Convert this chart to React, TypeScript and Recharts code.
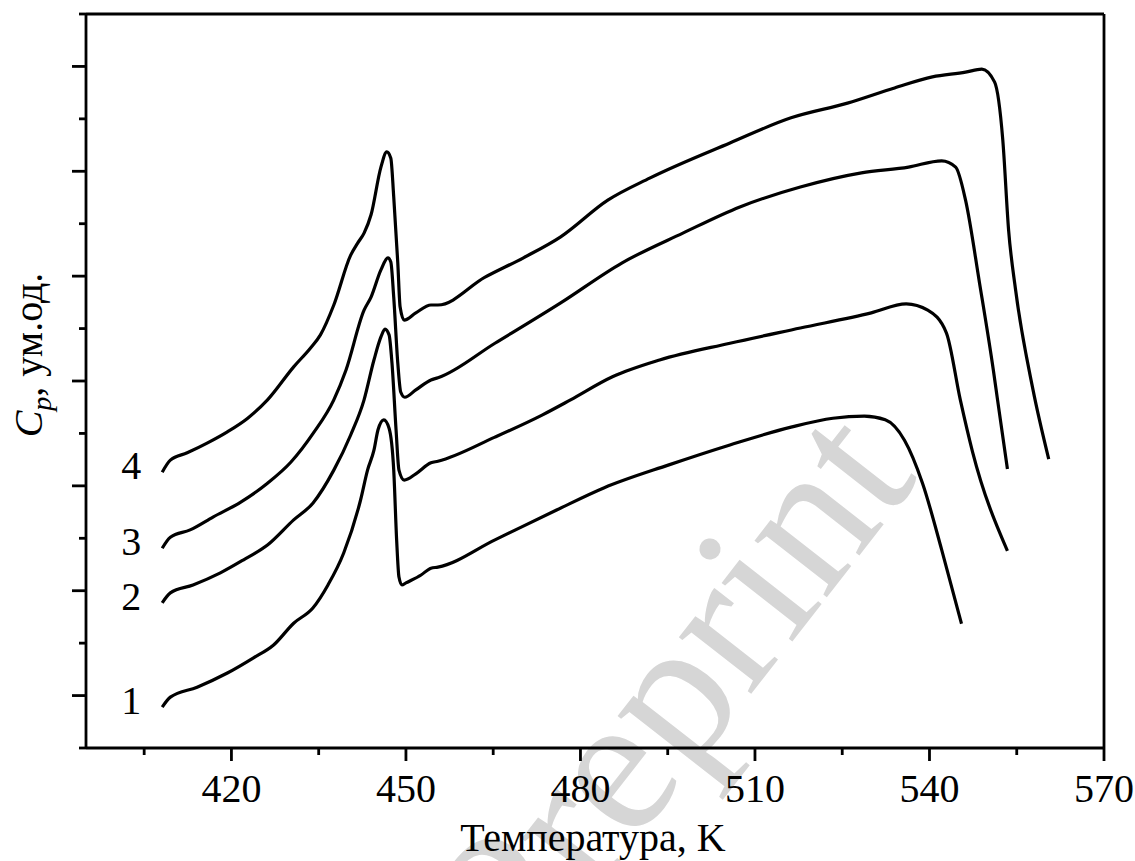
import { LineChart, Line, XAxis, YAxis, ReferenceLine } from 'recharts';

// Temperature (K) and Cp (arb. units), curves 1..4
const temp1 = [408.1, 409.5, 414.1, 419.3, 423.8, 427.2, 430.7, 434.0, 436.6, 439.3, 442.2, 443.4, 444.5, 445.2, 446.2, 447.1, 447.9, 448.4, 448.8, 449.3, 450.0, 452.6, 454.3, 455.5, 465.3, 475.9, 484.0, 495.2, 505.7, 516.2, 523.4, 528.8, 532.4, 535.7, 538.8, 542.1, 545.5];
const cp1 = [0.78, 0.97, 1.16, 1.43, 1.72, 1.96, 2.38, 2.67, 3.11, 3.72, 4.73, 5.30, 5.68, 6.07, 6.26, 6.10, 5.30, 3.97, 3.26, 3.11, 3.15, 3.30, 3.43, 3.45, 3.97, 4.54, 4.96, 5.40, 5.78, 6.12, 6.29, 6.33, 6.26, 5.87, 5.05, 3.78, 2.37];

const temp2 = [408.1, 409.5, 413.4, 418.1, 422.1, 426.2, 430.7, 434.0, 437.6, 440.5, 442.8, 444.5, 445.7, 446.4, 447.1, 447.6, 448.3, 448.8, 449.7, 451.7, 454.3, 455.5, 465.3, 473.4, 478.3, 485.5, 493.6, 505.7, 517.8, 530.0, 536.0, 539.7, 542.9, 545.3, 547.4, 553.4];
const cp2 = [2.77, 2.96, 3.11, 3.34, 3.59, 3.87, 4.35, 4.67, 5.30, 5.97, 6.64, 7.40, 7.84, 7.99, 7.88, 7.34, 6.07, 5.30, 5.11, 5.23, 5.44, 5.47, 5.93, 6.35, 6.64, 7.08, 7.40, 7.72, 8.01, 8.30, 8.47, 8.35, 7.92, 6.64, 5.65, 3.76];

const temp3 = [408.1, 409.5, 412.9, 416.9, 421.6, 426.2, 430.2, 434.1, 437.6, 439.7, 442.8, 444.0, 445.7, 446.9, 447.4, 447.9, 448.6, 449.1, 449.8, 451.7, 454.3, 455.5, 465.3, 476.6, 487.1, 497.6, 507.4, 517.8, 528.3, 536.4, 542.1, 544.5, 546.2, 548.6, 551.0, 551.7, 553.4];
const cp3 = [3.81, 4.02, 4.16, 4.41, 4.69, 5.05, 5.45, 6.01, 6.64, 7.21, 8.35, 8.60, 9.12, 9.35, 9.27, 8.60, 7.34, 6.79, 6.69, 6.83, 7.02, 7.06, 7.72, 8.49, 9.25, 9.82, 10.32, 10.70, 10.97, 11.08, 11.20, 11.08, 10.45, 8.87, 7.19, 6.64, 5.32];

const temp4 = [408.1, 409.5, 412.4, 415.9, 419.3, 422.8, 426.2, 430.7, 433.6, 435.3, 437.6, 440.5, 441.7, 442.8, 444.0, 445.7, 446.7, 447.4, 447.9, 448.6, 449.0, 449.7, 451.7, 454.3, 455.5, 463.6, 470.2, 476.6, 484.7, 491.9, 505.7, 516.2, 525.9, 534.0, 540.5, 546.2, 549.0, 551.2, 552.6, 553.6, 554.8, 557.8, 560.5];
const cp4 = [5.26, 5.49, 5.63, 5.82, 6.03, 6.29, 6.64, 7.27, 7.63, 7.88, 8.45, 9.40, 9.63, 9.82, 10.17, 11.08, 11.37, 11.25, 10.51, 9.25, 8.41, 8.16, 8.30, 8.45, 8.45, 8.98, 9.35, 9.75, 10.45, 10.87, 11.54, 12.02, 12.30, 12.59, 12.80, 12.89, 12.95, 12.70, 11.60, 9.88, 8.74, 6.83, 5.51];

const curveNames = ['1', '2', '3', '4'];
const xTicks = [405, 420, 435, 450, 465, 480, 495, 510, 525, 540, 555, 570];
const yTicks = [0, 1, 2, 3, 4, 5, 6, 7, 8, 9, 10, 11, 12, 13, 14];

const FONT = '"Liberation Serif", "Times New Roman", serif';

const zip = (t: number[], v: number[]) => t.map((x, i) => ({ t: x, v: v[i] }));
const series = [zip(temp1, cp1), zip(temp2, cp2), zip(temp3, cp3), zip(temp4, cp4)];

function XTick({ x, y, payload }: any) {
  const major = payload.value % 30 === 0;
  return (
    <g>
      <line x1={x} x2={x} y1={y} y2={y + (major ? 13 : 7)} stroke="#000" strokeWidth={2.8} />
      {major && (
        <text x={x} y={y + 54} textAnchor="middle" fontSize={40} fontFamily={FONT} fill="#000">
          {payload.value}
        </text>
      )}
    </g>
  );
}

function YTick({ x, y, payload }: any) {
  const major = payload.value % 2 === 1;
  return <line x1={x - (major ? 14 : 7)} x2={x} y1={y} y2={y} stroke="#000" strokeWidth={2.8} />;
}

// curve number placed left of the first point
const curveLabel = (name: string) => (props: any) => {
  if (props.index !== 0) return <g />;
  return (
    <text x={props.x - 31} y={props.y + 7} textAnchor="middle" fontSize={40} fontFamily={FONT} fill="#000">
      {name}
    </text>
  );
};

export default function App() {
  return (
    <div style={{ position: 'absolute', left: 0, top: 0, width: 1135, height: 861, background: '#fff' }}>
      {/* watermark behind the chart */}
      <svg width={1135} height={861} style={{ position: 'absolute', left: 0, top: 0 }}>
        <text
          x={523}
          y={986}
          transform="rotate(-52 523 986)"
          fontSize={200}
          fontFamily={FONT}
          fill="#d6d6d6"
        >
          Preprint
        </text>
      </svg>

      <div style={{ position: 'absolute', left: 0, top: 0 }}>
        <LineChart width={1135} height={861} margin={{ top: 14, right: 31, bottom: 0, left: 0 }}>
          <XAxis
            dataKey="t"
            type="number"
            domain={[395, 570]}
            ticks={xTicks}
            interval={0}
            height={113}
            tickSize={0}
            tickMargin={0}
            tickLine={false}
            tick={<XTick />}
            axisLine={{ stroke: '#000', strokeWidth: 2.8 }}
            allowDataOverflow
          />
          <YAxis
            type="number"
            domain={[0, 14]}
            ticks={yTicks}
            interval={0}
            width={86}
            tickSize={0}
            tickMargin={0}
            tickLine={false}
            tick={<YTick />}
            axisLine={{ stroke: '#000', strokeWidth: 2.8 }}
            allowDataOverflow
          />
          <ReferenceLine y={14} stroke="#000" strokeWidth={2.8} />
          <ReferenceLine x={570} stroke="#000" strokeWidth={2.8} />
          {series.map((d, i) => (
            <Line
              key={curveNames[i]}
              data={d}
              dataKey="v"
              type="monotone"
              stroke="#000"
              strokeWidth={3.2}
              dot={false}
              activeDot={false}
              isAnimationActive={false}
              label={curveLabel(curveNames[i])}
            />
          ))}
        </LineChart>
      </div>

      {/* axis titles */}
      <svg width={1135} height={861} style={{ position: 'absolute', left: 0, top: 0, pointerEvents: 'none' }}>
        <text x={593} y={851} textAnchor="middle" fontSize={40} fontFamily={FONT} fill="#000">
          Температура, K
        </text>
        <text transform="translate(42,355) rotate(-90)" textAnchor="middle" fontSize={40} fontFamily={FONT} fill="#000">
          <tspan fontStyle="italic">C</tspan>
          <tspan fontStyle="italic" fontSize={28} dy={9}>p</tspan>
          <tspan dy={-9}>, ум.од.</tspan>
        </text>
      </svg>
    </div>
  );
}
